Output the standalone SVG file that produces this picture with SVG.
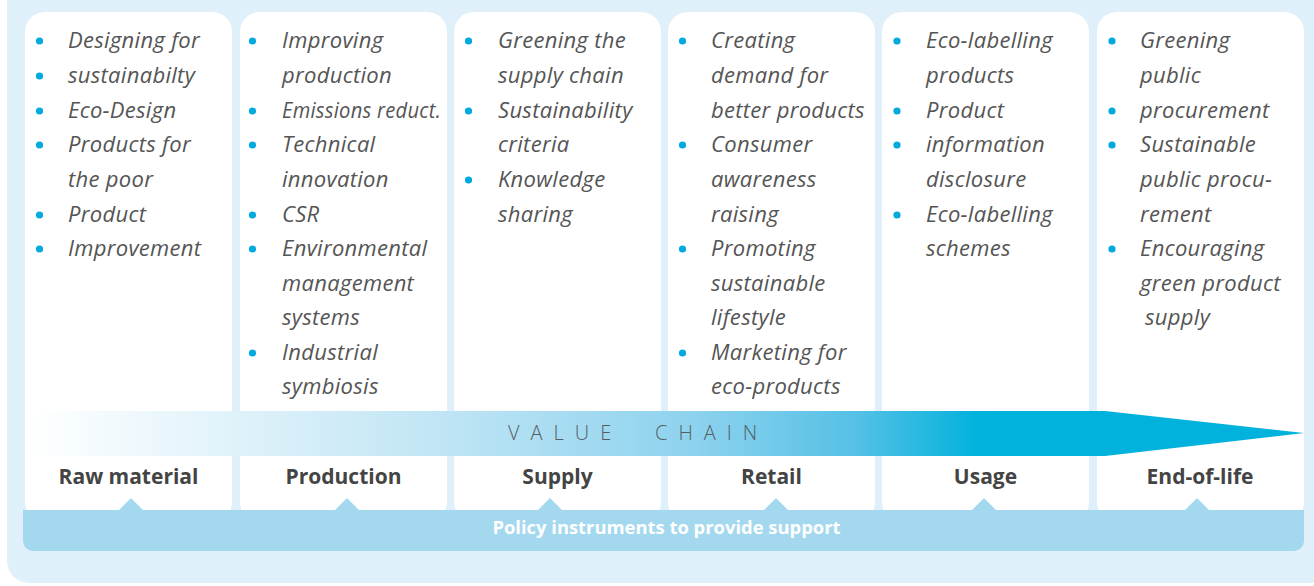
<svg xmlns="http://www.w3.org/2000/svg" width="1314" height="586" viewBox="0 0 1314 586">
<defs>
<style>
.col{fill:#ffffff}
.it{font-family:"Open Sans","Noto Sans","Liberation Sans",sans-serif;font-style:italic;font-size:22px;letter-spacing:0.3px;fill:#555555}
.dot{fill:#00a9de}
.stage{font-family:"Open Sans","Noto Sans","Liberation Sans",sans-serif;font-weight:bold;font-size:21px;fill:#444444;text-anchor:middle}
.vc{font-family:"Open Sans","Noto Sans","Liberation Sans",sans-serif;font-weight:300;font-size:20px;fill:#555f64;letter-spacing:11px}
.pol{font-family:"Open Sans","Noto Sans","Liberation Sans",sans-serif;font-weight:bold;font-size:18.4px;fill:#ffffff;text-anchor:middle}
</style>
<linearGradient id="vg" gradientUnits="userSpaceOnUse" x1="30" y1="0" x2="980" y2="0">
<stop offset="0" stop-color="#ffffff"/>
<stop offset="0.43" stop-color="#c0e5f5"/>
<stop offset="0.70" stop-color="#8dd2ee"/>
<stop offset="0.87" stop-color="#55c0e5"/>
<stop offset="1" stop-color="#00b2dc"/>
</linearGradient>
</defs>
<rect x="7" y="-30" width="1340" height="613" rx="22" fill="#dff0fb"/>

<g id="col-raw">
<rect class="col" x="25" y="12" width="207" height="510" rx="20"/>
<circle class="dot" cx="39.5" cy="41" r="3.6"/><text class="it" x="68" y="48">Designing for</text>
<circle class="dot" cx="39.5" cy="76" r="3.6"/><text class="it" x="68" y="83">sustainabilty</text>
<circle class="dot" cx="39.5" cy="111" r="3.6"/><text class="it" x="68" y="118">Eco-Design</text>
<circle class="dot" cx="39.5" cy="145" r="3.6"/><text class="it" x="68" y="152">Products for</text>
<text class="it" x="68" y="187">the poor</text>
<circle class="dot" cx="39.5" cy="215" r="3.6"/><text class="it" x="68" y="222">Product</text>
<circle class="dot" cx="39.5" cy="249" r="3.6"/><text class="it" x="68" y="256">Improvement</text>
</g>

<g id="col-production">
<rect class="col" x="240" y="12" width="207" height="510" rx="20"/>
<circle class="dot" cx="252.5" cy="41" r="3.6"/><text class="it" x="282" y="48">Improving</text>
<text class="it" x="282" y="83">production</text>
<circle class="dot" cx="252.5" cy="111" r="3.6"/><text class="it" x="282" y="118" textLength="159" lengthAdjust="spacingAndGlyphs">Emissions reduct.</text>
<circle class="dot" cx="252.5" cy="145" r="3.6"/><text class="it" x="282" y="152">Technical</text>
<text class="it" x="282" y="187">innovation</text>
<circle class="dot" cx="252.5" cy="215" r="3.6"/><text class="it" x="282" y="222">CSR</text>
<circle class="dot" cx="252.5" cy="249" r="3.6"/><text class="it" x="282" y="256">Environmental</text>
<text class="it" x="282" y="291">management</text>
<text class="it" x="282" y="325">systems</text>
<circle class="dot" cx="252.5" cy="353" r="3.6"/><text class="it" x="282" y="360">Industrial</text>
<text class="it" x="282" y="394">symbiosis</text>
</g>

<g id="col-supply">
<rect class="col" x="454" y="12" width="207" height="510" rx="20"/>
<circle class="dot" cx="468.5" cy="41" r="3.6"/><text class="it" x="498" y="48">Greening the</text>
<text class="it" x="498" y="83">supply chain</text>
<circle class="dot" cx="468.5" cy="111" r="3.6"/><text class="it" x="498" y="118">Sustainability</text>
<text class="it" x="498" y="152">criteria</text>
<circle class="dot" cx="468.5" cy="180" r="3.6"/><text class="it" x="498" y="187">Knowledge</text>
<text class="it" x="498" y="222">sharing</text>
</g>

<g id="col-retail">
<rect class="col" x="668" y="12" width="207" height="510" rx="20"/>
<circle class="dot" cx="682.5" cy="41" r="3.6"/><text class="it" x="711" y="48">Creating</text>
<text class="it" x="711" y="83">demand for</text>
<text class="it" x="711" y="118">better products</text>
<circle class="dot" cx="682.5" cy="145" r="3.6"/><text class="it" x="711" y="152">Consumer</text>
<text class="it" x="711" y="187">awareness</text>
<text class="it" x="711" y="222">raising</text>
<circle class="dot" cx="682.5" cy="249" r="3.6"/><text class="it" x="711" y="256">Promoting</text>
<text class="it" x="711" y="291">sustainable</text>
<text class="it" x="711" y="325">lifestyle</text>
<circle class="dot" cx="682.5" cy="353" r="3.6"/><text class="it" x="711" y="360">Marketing for</text>
<text class="it" x="711" y="394">eco-products</text>
</g>

<g id="col-usage">
<rect class="col" x="882" y="12" width="207" height="510" rx="20"/>
<circle class="dot" cx="897" cy="41" r="3.6"/><text class="it" x="926" y="48">Eco-labelling</text>
<text class="it" x="926" y="83">products</text>
<circle class="dot" cx="897" cy="111" r="3.6"/><text class="it" x="926" y="118">Product</text>
<circle class="dot" cx="897" cy="145" r="3.6"/><text class="it" x="926" y="152">information</text>
<text class="it" x="926" y="187">disclosure</text>
<circle class="dot" cx="897" cy="215" r="3.6"/><text class="it" x="926" y="222">Eco-labelling</text>
<text class="it" x="926" y="256">schemes</text>
</g>

<g id="col-endoflife">
<rect class="col" x="1097" y="12" width="207" height="510" rx="20"/>
<circle class="dot" cx="1112" cy="41" r="3.6"/><text class="it" x="1140" y="48">Greening</text>
<text class="it" x="1140" y="83">public</text>
<circle class="dot" cx="1112" cy="111" r="3.6"/><text class="it" x="1140" y="118">procurement</text>
<circle class="dot" cx="1112" cy="145" r="3.6"/><text class="it" x="1140" y="152">Sustainable</text>
<text class="it" x="1140" y="187">public procu-</text>
<text class="it" x="1140" y="222">rement</text>
<circle class="dot" cx="1112" cy="249" r="3.6"/><text class="it" x="1140" y="256">Encouraging</text>
<text class="it" x="1140" y="291">green product</text>
<text class="it" x="1145" y="325">supply</text>
</g>

<g id="value-chain">
<polygon points="25,411 1105,411 1304,433 1105,456 25,456" fill="url(#vg)"/>
<text class="vc" x="508" y="440">VALUE</text>
<text class="vc" x="655" y="440">CHAIN</text>
</g>

<g id="stages">
<text class="stage" x="128.5" y="484">Raw material</text>
<text class="stage" x="343.5" y="484">Production</text>
<text class="stage" x="557.5" y="484">Supply</text>
<text class="stage" x="771.5" y="484">Retail</text>
<text class="stage" x="985.5" y="484">Usage</text>
<text class="stage" x="1200" y="484">End-of-life</text>
</g>

<g id="policy">
<path d="M23,510 H1304 V541 A10,10 0 0 1 1294,551 H33 A10,10 0 0 1 23,541 Z" fill="#a3d8ef"/>
<polygon points="119,510 131,498 143,510" fill="#a3d8ef"/>
<polygon points="335,510 347,498 359,510" fill="#a3d8ef"/>
<polygon points="538,510 550,498 562,510" fill="#a3d8ef"/>
<polygon points="764,510 776,498 788,510" fill="#a3d8ef"/>
<polygon points="972,510 984,498 996,510" fill="#a3d8ef"/>
<polygon points="1185,510 1197,498 1209,510" fill="#a3d8ef"/>
<text class="pol" x="666.5" y="534">Policy instruments to provide support</text>
</g>
</svg>
